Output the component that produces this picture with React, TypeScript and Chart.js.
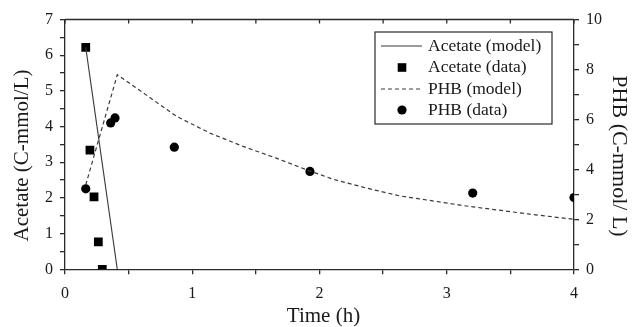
import React, { useEffect, useRef } from 'react';
import { Chart, registerables } from 'chart.js';

Chart.register(...registerables);

// ---- data ----
const acetateModelTime = [0.163, 0.411];
const acetateModel = [6.22, 0];

const acetateDataTime = [0.163, 0.196, 0.228, 0.262, 0.293];
const acetateData = [6.22, 3.34, 2.03, 0.77, 0];

const phbModelTime = [0.163, 0.411, 0.615, 0.878, 1.14, 1.4, 1.66, 1.9, 2.11, 2.37, 2.63, 2.9, 3.13, 3.39, 3.65, 4.0];
const phbModel = [3.38, 7.79, 7.06, 6.12, 5.45, 4.92, 4.45, 3.98, 3.6, 3.25, 2.94, 2.73, 2.55, 2.38, 2.21, 2.0];

const phbDataTime = [0.163, 0.359, 0.393, 0.859, 1.925, 3.204, 4.0];
const phbData = [3.22, 5.86, 6.06, 4.89, 3.92, 3.05, 2.87];

const xTickLabels = [0, 1, 2, 3, 4];
const leftTickLabels = [0, 1, 2, 3, 4, 5, 6, 7];
const rightTickLabels = [0, 2, 4, 6, 8, 10];

const legendLabels = ['Acetate (model)', 'Acetate (data)', 'PHB (model)', 'PHB (data)'];
const xTitle = 'Time (h)';
const leftTitle = 'Acetate (C-mmol/L)';
const rightTitle = 'PHB (C-mmol/ L)';

const FONT = "'Liberation Serif', 'Times New Roman', serif";
const AXIS = '#2a2a2a';
const TXT = '#1a1a1a';
const LINE = '#3a3a3a';

const zip = (xs: number[], ys: number[]) => xs.map((x, i) => ({ x, y: ys[i] }));

const framePlugin = {
  id: 'frameAndLegend',
  afterDraw(chart: any) {
    const { ctx, chartArea: ca, scales } = chart;
    ctx.save();
    // top border with inward ticks
    ctx.strokeStyle = AXIS;
    ctx.lineWidth = 1.3;
    ctx.beginPath();
    ctx.moveTo(ca.left, ca.top);
    ctx.lineTo(ca.right, ca.top);
    scales.x.ticks.forEach((t: any) => {
      const px = scales.x.getPixelForValue(t.value);
      ctx.moveTo(px, ca.top);
      ctx.lineTo(px, ca.top + 4);
    });
    ctx.stroke();

    // axis titles
    ctx.fillStyle = TXT;
    ctx.textAlign = 'center';
    ctx.textBaseline = 'alphabetic';
    ctx.font = `21px ${FONT}`;
    ctx.fillText(xTitle, 323.5, 321.5);

    ctx.textBaseline = 'middle';
    ctx.save();
    ctx.translate(22.6, 155.5);
    ctx.rotate(-Math.PI / 2);
    ctx.fillText(leftTitle, 0, 0);
    ctx.restore();

    ctx.save();
    ctx.font = `22px ${FONT}`;
    ctx.translate(619, 156);
    ctx.rotate(Math.PI / 2);
    ctx.fillText(rightTitle, 0, 0);
    ctx.restore();

    // legend box
    const bx = 375, by = 32, bw = 177, bh = 92;
    ctx.fillStyle = '#fff';
    ctx.fillRect(bx, by, bw, bh);
    ctx.strokeStyle = AXIS;
    ctx.lineWidth = 1.2;
    ctx.strokeRect(bx, by, bw, bh);

    const rows = [46, 67.5, 89, 110];
    const ds = chart.data.datasets;
    ctx.font = `17.5px ${FONT}`;
    ctx.textBaseline = 'middle';
    ctx.textAlign = 'left';
    legendLabels.forEach((label, i) => {
      const y = rows[i];
      const d = ds[i];
      if (d.showLine) {
        ctx.strokeStyle = d.borderColor;
        ctx.lineWidth = d.borderWidth;
        ctx.setLineDash(d.borderDash || []);
        ctx.beginPath();
        ctx.moveTo(381, y);
        ctx.lineTo(422, y);
        ctx.stroke();
        ctx.setLineDash([]);
      } else {
        ctx.fillStyle = '#000';
        const cx = 402;
        if (d.pointStyle === 'rect') {
          const s = 4.3;
          ctx.fillRect(cx - s, y - s, 2 * s, 2 * s);
        } else {
          ctx.beginPath();
          ctx.arc(cx, y, 4.6, 0, Math.PI * 2);
          ctx.fill();
        }
      }
      ctx.fillStyle = TXT;
      ctx.fillText(label, 428, y);
    });
    ctx.restore();
  },
};

export default function App() {
  const ref = useRef<HTMLCanvasElement | null>(null);

  useEffect(() => {
    if (!ref.current) return;
    const tickFont = { family: FONT, size: 16 };
    const chart = new Chart(ref.current, {
      type: 'scatter',
      data: {
        datasets: [
          {
            label: legendLabels[0],
            data: zip(acetateModelTime, acetateModel),
            showLine: true,
            borderColor: LINE,
            borderWidth: 1.1,
            pointRadius: 0,
            yAxisID: 'y',
          },
          {
            label: legendLabels[1],
            data: zip(acetateDataTime, acetateData),
            showLine: false,
            pointStyle: 'rect',
            pointRadius: 6.2,
            backgroundColor: '#000',
            borderColor: '#000',
            borderWidth: 0,
            yAxisID: 'y',
          },
          {
            label: legendLabels[2],
            data: zip(phbModelTime, phbModel),
            showLine: true,
            borderColor: LINE,
            borderWidth: 1.2,
            borderDash: [4, 3],
            pointRadius: 0,
            tension: 0,
            yAxisID: 'y2',
          },
          {
            label: legendLabels[3],
            data: zip(phbDataTime, phbData),
            showLine: false,
            pointStyle: 'circle',
            pointRadius: 4.6,
            backgroundColor: '#000',
            borderColor: '#000',
            borderWidth: 0,
            yAxisID: 'y2',
          },
        ],
      } as any,
      options: {
        responsive: false,
        animation: false,
        devicePixelRatio: 1,
        layout: { padding: { top: 19.5, left: 0, right: 0, bottom: 0 } },
        plugins: { legend: { display: false }, tooltip: { enabled: false } },
        scales: {
          x: {
            type: 'linear',
            position: 'bottom',
            min: 0,
            max: 4,
            afterFit: (s: any) => { s.height = 57.7; },
            grid: { drawOnChartArea: false, tickLength: 5, color: AXIS, lineWidth: 1.3 },
            border: { display: true, color: AXIS, width: 1.3 },
            ticks: {
              stepSize: 0.5,
              autoSkip: false,
              maxRotation: 0,
              padding: 10,
              color: TXT,
              font: tickFont,
              callback: (v: any) => (xTickLabels.includes(v) ? String(v) : ''),
            },
            title: { display: false },
          },
          y: {
            type: 'linear',
            position: 'left',
            min: 0,
            max: 7,
            afterFit: (s: any) => { s.width = 65; },
            grid: { drawOnChartArea: false, tickLength: 5, color: AXIS, lineWidth: 1.3 },
            border: { display: true, color: AXIS, width: 1.3 },
            ticks: {
              stepSize: 0.5,
              autoSkip: false,
              padding: 7,
              color: TXT,
              font: tickFont,
              callback: (v: any) => (leftTickLabels.includes(v) ? String(v) : ''),
            },
            title: { display: false },
          },
          y2: {
            type: 'linear',
            position: 'right',
            min: 0,
            max: 10,
            afterFit: (s: any) => { s.width = 59; },
            grid: { drawOnChartArea: false, tickLength: 5, color: AXIS, lineWidth: 1.3 },
            border: { display: true, color: AXIS, width: 1.3 },
            ticks: {
              stepSize: 1,
              autoSkip: false,
              padding: 7,
              color: TXT,
              font: tickFont,
              callback: (v: any) => (rightTickLabels.includes(v) ? String(v) : ''),
            },
            title: { display: false },
          },
        },
      } as any,
      plugins: [framePlugin],
    });
    return () => chart.destroy();
  }, []);

  return (
    <div style={{ position: 'fixed', left: 0, top: 0, width: 633, height: 327, background: '#fff' }}>
      <canvas ref={ref} width={633} height={327} style={{ display: 'block' }} />
    </div>
  );
}
